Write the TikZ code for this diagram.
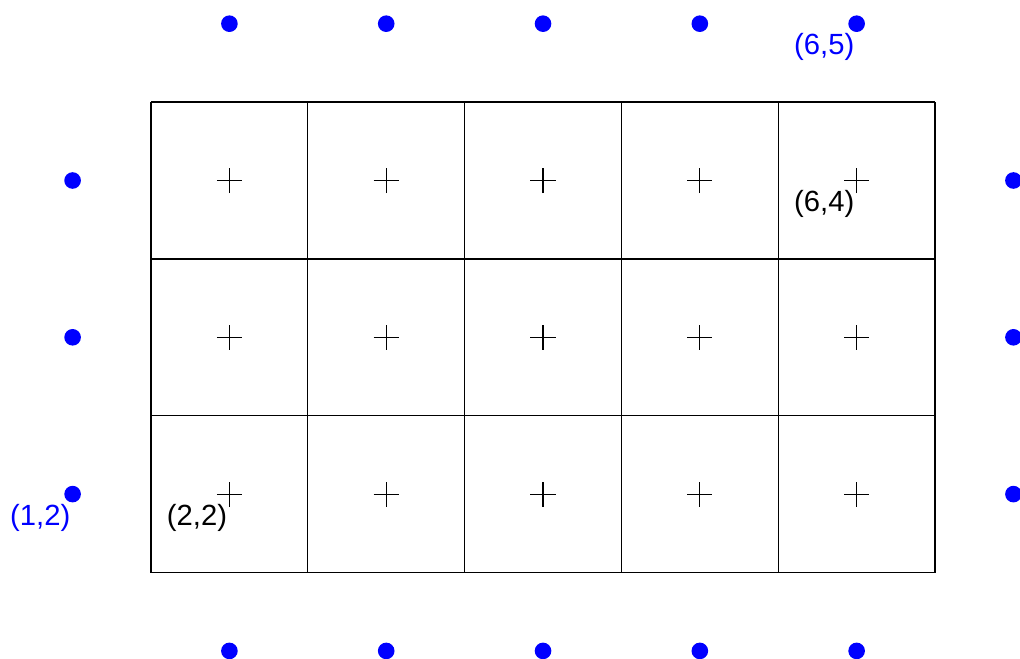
\documentclass[tikz,border=0pt]{standalone}
\usepackage{fontspec}
\setmainfont{Liberation Sans}
\definecolor{dotblue}{RGB}{0,0,255}
\begin{document}
\begin{tikzpicture}[x=1cm,y=1cm,
  gridline/.style={line width=0.22pt,black},
  plusline/.style={line width=0.22pt,black},
  dotnode/.style={circle,fill=dotblue,draw=none,inner sep=0pt,minimum size=0.106cm},
  lbl/.style={anchor=base east,inner sep=0pt,font=\fontsize{5.3pt}{6pt}\selectfont},
  bluelbl/.style={lbl,text=dotblue}]
\useasboundingbox (0.537,0.952) rectangle (7.042,5.151);
% grid
\foreach \x in {1.5,2.5,...,6.5} \draw[gridline] (\x,1.5) -- (\x,4.5);
\foreach \y in {1.5,2.5,3.5,4.5} \draw[gridline] (1.5,\y) -- (6.5,\y);
% plus marks at cell centres
\foreach \i in {2,...,6} \foreach \j in {2,3,4} {
  \coordinate (p\i\j) at (\i,\j);
  \draw[plusline] ([xshift=-0.08cm]p\i\j) -- ([xshift=0.08cm]p\i\j);
  \draw[plusline] ([yshift=-0.08cm]p\i\j) -- ([yshift=0.08cm]p\i\j);
}
% blue dots
\foreach \i in {2,...,6} {
  \node[dotnode] (d\i5) at (\i,5) {};
  \node[dotnode] (d\i1) at (\i,1) {};
}
\foreach \j in {2,3,4} {
  \node[dotnode] (d1\j) at (1,\j) {};
  \node[dotnode] (d7\j) at (7,\j) {};
}
% labels
\node[lbl] (l22) at ([shift={(-0.008,-0.198)}]p22) {(2,2)};
\node[lbl] (l64) at ([shift={(-0.008,-0.198)}]p64) {(6,4)};
\node[bluelbl] (l12) at ([shift={(-0.008,-0.198)}]d12.center) {(1,2)};
\node[bluelbl] (l65) at ([shift={(-0.008,-0.198)}]d65.center) {(6,5)};
\end{tikzpicture}
\end{document}
